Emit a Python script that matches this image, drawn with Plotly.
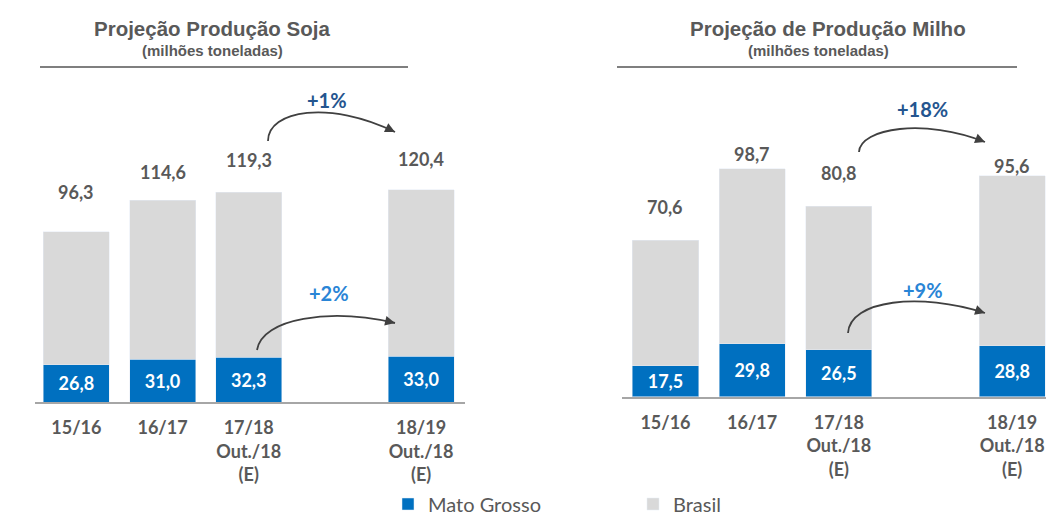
import plotly.graph_objects as go

W, H = 1046, 518

# ---------------- data ----------------
categories = ["15/16", "16/17", "17/18<br>Out./18<br>(E)", "18/19<br>Out./18<br>(E)"]
cat_pos = [0, 1, 2, 4]
soja_mt = [26.8, 31.0, 32.3, 33.0]
soja_br = [96.3, 114.6, 119.3, 120.4]
milho_mt = [17.5, 29.8, 26.5, 28.8]
milho_br = [70.6, 98.7, 80.8, 95.6]
soja_var = ["+1%", "+2%"]
milho_var = ["+18%", "+9%"]

# ---------------- styles ----------------
BLUE = "#0070C0"
GRAY = "#D9D9D9"
TXT = "#595959"
NAVY = "#24558F"
LBLUE = "#2985D6"
ARROW = "#404040"
NUMFONT = "Lato"
TITLEFONT = "Liberation Sans"
BAR_W = 0.765
soja_lbl_shift = [40, 28, 32, 31]
milho_lbl_shift = [33, 15, 33, 10]


def fmt(v):
    return f"{v:.1f}".replace(".", ",")


def pp(x, y):
    return x / W, 1 - y / H


fig = go.Figure()

for (mt, br, xa, ya, show) in [(soja_mt, soja_br, "x", "y", True),
                               (milho_mt, milho_br, "x2", "y2", False)]:
    fig.add_trace(go.Bar(
        x=cat_pos, y=mt, name="Mato Grosso", marker_color=BLUE, width=BAR_W,
        text=[f"<b>{fmt(v)}</b>" for v in mt], textposition="inside",
        insidetextanchor="middle", constraintext="none",
        textfont=dict(family=NUMFONT, size=18, color="white"),
        xaxis=xa, yaxis=ya, showlegend=show, legendgroup="mt",
        hoverinfo="skip"))
    fig.add_trace(go.Bar(
        x=cat_pos, y=br, name="Brasil", marker_color=GRAY, width=BAR_W,
        xaxis=xa, yaxis=ya, showlegend=show, legendgroup="br",
        hoverinfo="skip"))

annotations = []
# value labels above bars
for (mt, br, xa, ya, shifts) in [(soja_mt, soja_br, "x", "y", soja_lbl_shift),
                                 (milho_mt, milho_br, "x2", "y2", milho_lbl_shift)]:
    for p, m, b, s in zip(cat_pos, mt, br, shifts):
        annotations.append(dict(
            x=p, y=m + b, xref=xa, yref=ya, text=f"<b>{fmt(b)}</b>",
            showarrow=False, yanchor="middle", yshift=s,
            font=dict(family=NUMFONT, size=18, color=TXT)))

# titles
for (t, cx, sx) in [("Projeção Produção Soja", 212, 212),
                    ("Projeção de Produção Milho", 828, 818.5)]:
    x, y = pp(cx, 28)
    annotations.append(dict(x=x, y=y, xref="paper", yref="paper", showarrow=False,
                            text=f"<b>{t}</b>", xanchor="center", yanchor="middle",
                            font=dict(family=TITLEFONT, size=20.5, color=TXT)))
    x, y = pp(sx, 50)
    annotations.append(dict(x=x, y=y, xref="paper", yref="paper", showarrow=False,
                            text="<b>(milhões toneladas)</b>", xanchor="center",
                            yanchor="middle",
                            font=dict(family=TITLEFONT, size=15, color=TXT)))

shapes = []
# title underlines
for (x0, x1) in [(40, 408), (617, 1017)]:
    a = pp(x0, 67)
    b = pp(x1, 67)
    shapes.append(dict(type="line", xref="paper", yref="paper",
                       x0=a[0], y0=a[1], x1=b[0], y1=b[1],
                       line=dict(color="#7F7F7F", width=2)))

# curved arrows (pixel geometry) with variation labels
arrows = [
    ((268, 141), (268, 110), (330, 100), (395, 132), soja_var[0], (327, 100), NAVY),
    ((257, 350), (262, 318), (330, 308), (395, 323), soja_var[1], (329, 293), LBLUE),
    ((859, 152), (860, 128), (925, 118), (985, 142), milho_var[0], (922, 109), NAVY),
    ((848, 333), (850, 300), (920, 292), (985, 313), milho_var[1], (923, 290), LBLUE),
]
for (p0, c1, c2, p1, lbl, lp, col) in arrows:
    pts = [pp(*p) for p in (p0, c1, c2, p1)]
    path = "M {:.5f},{:.5f} C {:.5f},{:.5f} {:.5f},{:.5f} {:.5f},{:.5f}".format(
        *pts[0], *pts[1], *pts[2], *pts[3])
    shapes.append(dict(type="path", xref="paper", yref="paper", path=path,
                       line=dict(color=ARROW, width=1.8)))
    dx, dy = p1[0] - c2[0], p1[1] - c2[1]
    n = (dx ** 2 + dy ** 2) ** 0.5
    L = 10
    hx, hy = pp(*p1)
    annotations.append(dict(x=hx, y=hy, xref="paper", yref="paper", text="",
                            showarrow=True, arrowhead=2, arrowsize=1.1,
                            arrowwidth=1.8, arrowcolor=ARROW,
                            ax=-dx / n * L, ay=-dy / n * L, standoff=0))
    lx, ly = pp(*lp)
    annotations.append(dict(x=lx, y=ly, xref="paper", yref="paper", showarrow=False,
                            text=f"<b>{lbl}</b>", xanchor="center", yanchor="middle",
                            font=dict(family=NUMFONT, size=20, color=col)))

ticktext = [f"<b>{c}</b>" for c in categories]
xaxis_common = dict(tickmode="array", tickvals=cat_pos, ticktext=ticktext,
                    tickfont=dict(family=NUMFONT, size=18, color=TXT),
                    showline=True, linecolor="#A6A6A6", linewidth=1.5,
                    showgrid=False, zeroline=False, ticks="",
                    ticklabelstandoff=9, fixedrange=True)

fig.update_layout(
    width=W, height=H,
    margin=dict(l=0, r=0, t=0, b=0, autoexpand=False),
    paper_bgcolor="white", plot_bgcolor="white",
    barmode="stack",
    xaxis=dict(domain=[35 / W, 465 / W], range=[-0.48, 4.51], anchor="y", **xaxis_common),
    yaxis=dict(domain=[(H - 402) / H, 1 - 80 / H], range=[0, (402 - 80) / 1.385],
               visible=False, fixedrange=True),
    xaxis2=dict(domain=[621.7 / W, 1.0], range=[-0.505, 4.39], anchor="y2", **xaxis_common),
    yaxis2=dict(domain=[(H - 396.7) / H, 1 - 80 / H], range=[0, (396.7 - 80) / 1.775],
                visible=False, fixedrange=True),
    legend=dict(orientation="h", x=388 / W, xanchor="left", y=1 - 504 / H,
                yanchor="middle", entrywidth=200, entrywidthmode="pixels",
                font=dict(family=NUMFONT, size=20, color=TXT),
                bgcolor="rgba(0,0,0,0)"),
    annotations=annotations,
    shapes=shapes,
    showlegend=True,
)

fig.write_html("out.html")
